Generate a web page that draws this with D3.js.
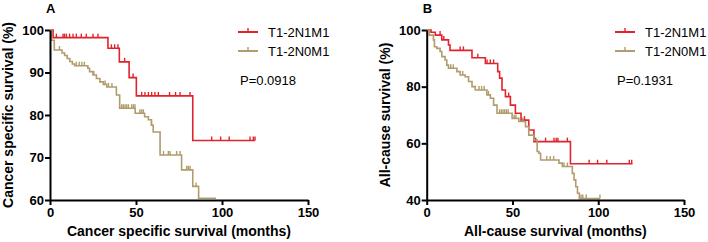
<!DOCTYPE html>
<html lang="en">
<head>
<meta charset="UTF-8">
<title>Survival curves</title>
<script src="https://cdn.jsdelivr.net/npm/d3@7"></script>
<style>
    body { margin: 0; background: #fff; }
    svg { display: block; font-family: Arial, "Liberation Sans", sans-serif; }
    .axis path, .axis line { stroke: #000; stroke-width: 2px; }
    .axis text { font-size: 13px; font-weight: bold; fill: #000; }
</style>
</head>
<body>
<script>
    const groups = ["T1-2N1M1", "T1-2N0M1"];
    const colors = ["#e2232b", "#b09c6c"];
    const xTicks = [0, 50, 100, 150];
    const yTicksA = [60, 70, 80, 90, 100];
    const yTicksB = [40, 60, 80, 100];
    const pValues = ["P=0.0918", "P=0.1931"];

    // panel A - cancer specific survival
    const cssN1Time = [0, 1.8, 33.7, 40.3, 46, 50.2, 83];
    const cssN1Surv = [100, 98.2, 95.7, 92.5, 88.8, 84.5, 74];
    const cssN1End = 119.2;
    const cssN1Cens = [3.7, 7.6, 8.4, 9.5, 11.4, 13.4, 15.3, 18.2, 21.1, 25, 27.9, 35.7, 37.6, 39.5, 43.4, 48.3,
        53.3, 55.2, 57.2, 59.1, 61, 63, 69.5, 73, 75.6, 81.4, 94, 99.2, 104.2, 116.3, 118.2, 119.2];

    const cssN0Time = [0, 0.8, 2.5, 7, 8.5, 10, 11.5, 13, 14.3, 22, 23, 25, 27, 29, 31, 33, 38.6, 40.5, 49.5, 55,
        57.2, 59, 60, 64, 76.5, 83, 86.4];
    const cssN0Surv = [100, 97.6, 95.3, 94.6, 94.0, 93.3, 92.6, 92.0, 91.6, 91.0, 90.2, 89.4, 88.6, 87.8, 87.2, 86.6,
        84.7, 81.6, 80.4, 79.6, 78.9, 77.6, 76.0, 70.6, 67.1, 63.2, 56.0];
    const cssN0End = 96.5;
    const cssN0Cens = [5.5, 15.3, 17, 18.5, 20, 25.5, 32, 34, 36, 41.7, 42.6, 43.6, 44.6, 45.6, 47.5, 48.5, 49.4,
        52.3, 53.3, 54.3, 59, 66, 68.8, 69.8, 73.6, 75.6, 79.5, 80.4, 81.4, 84.9];

    // panel B - all-cause survival
    const acsN1Time = [0, 2.5, 5, 8.8, 12.7, 13.6, 26.4, 34.2, 41.4, 42.5, 43.9, 45.9, 48.8, 51.7, 55, 59.5, 62.5, 83.8];
    const acsN1Surv = [100, 99.2, 98.2, 96.5, 94.7, 92.8, 90.2, 88.2, 85.3, 83, 78.8, 76.5, 73.5, 70.6, 68.2, 64.7,
        60.6, 52.8];
    const acsN1End = 120;
    const acsN1Cens = [7.8, 10, 19.5, 21.4, 29.8, 35.2, 37.1, 39, 47.8, 57, 63.5, 69.3, 74.2, 75.5, 76.5, 82,
        94.7, 99.6, 105, 118.1, 119.5];

    const acsN0Time = [0, 1.5, 3.9, 4.5, 5.9, 7.8, 8.8, 10.7, 11.7, 12.7, 17.6, 19.5, 22.4, 24.4, 26.4, 28.3, 35.1,
        37.1, 39, 41, 49.8, 53.7, 57.6, 59.5, 62.5, 64.4, 65.4, 66.4, 77.1, 79.1, 84.9, 85.9, 86.9, 87.9, 89];
    const acsN0Surv = [100, 98.2, 96.5, 94.1, 93.5, 92.4, 90.6, 89.4, 87.6, 86.5, 85.3, 84.1, 83.5, 81.8, 80, 78.8,
        77.1, 75.9, 73.5, 70.6, 68.8, 67.7, 65.9, 62.9, 61.2, 57.1, 56.5, 54.1, 53, 51.8, 49.4, 47.1, 44.7, 42.4, 40.5];
    const acsN0End = 101;
    const acsN0Cens = [14, 15.5, 21, 30.5, 32, 33.5, 36, 42.5, 43.5, 44.5, 45.5, 46.5, 47.5, 51, 52, 56, 70, 72, 74,
        80, 82, 90, 91, 93, 101];

    const svg = d3.select("body").append("svg")
        .attr("width", 708)
        .attr("height", 242);

    drawPanel({
        label: "A", left: 50, right: 308, yDomain: [60, 100], yTicks: yTicksA,
        xTitle: "Cancer specific survival (months)", yTitle: "Cancer specific survival (%)",
        series: [
            {time: cssN1Time, surv: cssN1Surv, end: cssN1End, cens: cssN1Cens},
            {time: cssN0Time, surv: cssN0Surv, end: cssN0End, cens: cssN0Cens}
        ],
        legendX: 238, p: pValues[0]
    });
    drawPanel({
        label: "B", left: 426.7, right: 684, yDomain: [40, 100], yTicks: yTicksB,
        xTitle: "All-cause survival (months)", yTitle: "All-cause survival (%)",
        series: [
            {time: acsN1Time, surv: acsN1Surv, end: acsN1End, cens: acsN1Cens},
            {time: acsN0Time, surv: acsN0Surv, end: acsN0End, cens: acsN0Cens}
        ],
        legendX: 615, p: pValues[1]
    });

    function drawPanel(o) {
        const x = d3.scaleLinear().domain([0, 150]).range([o.left, o.right]);
        const y = d3.scaleLinear().domain(o.yDomain).range([200, 30]);
        const yMin = o.yDomain[0];
        const g = svg.append("g");

        // curves
        o.series.forEach((s, i) => {
            const pts = s.time.map((t, k) => [t, s.surv[k]]);
            pts.push([s.end, s.surv[s.surv.length - 1]]);
            const line = d3.line()
                .x(d => x(d[0]))
                .y(d => y(Math.max(d[1], yMin + 0.4)))
                .curve(d3.curveStepAfter);
            g.append("path")
                .attr("d", line(pts))
                .attr("fill", "none")
                .attr("stroke", colors[i])
                .attr("stroke-width", 1.6);

            const survAt = t => s.surv[d3.bisectRight(s.time, t) - 1];
            g.selectAll(null)
                .data(s.cens)
                .join("line")
                .attr("x1", d => x(d)).attr("x2", d => x(d))
                .attr("y1", d => y(Math.max(survAt(d), yMin + 0.4)))
                .attr("y2", d => y(Math.max(survAt(d), yMin + 0.4)) - 4)
                .attr("stroke", colors[i])
                .attr("stroke-width", 1.4);
        });

        // axes
        g.append("g")
            .attr("class", "axis")
            .attr("transform", "translate(0,200)")
            .call(d3.axisBottom(x).tickValues(xTicks).tickSize(5).tickPadding(3).tickSizeOuter(0));
        g.append("g")
            .attr("class", "axis")
            .attr("transform", `translate(${o.left},0)`)
            .call(d3.axisLeft(y).tickValues(o.yTicks).tickSize(5).tickPadding(1).tickSizeOuter(0));

        // titles
        g.append("text")
            .attr("x", (o.left + o.right) / 2).attr("y", 236)
            .attr("text-anchor", "middle")
            .style("font-size", "14px").style("font-weight", "bold")
            .text(o.xTitle);
        g.append("text")
            .attr("transform", `translate(${o.left - 37},115) rotate(-90)`)
            .attr("text-anchor", "middle")
            .style("font-size", "14px").style("font-weight", "bold")
            .text(o.yTitle);
        g.append("text")
            .attr("x", o.left - 4).attr("y", 13)
            .style("font-size", "13px").style("font-weight", "bold")
            .text(o.label);

        // legend
        groups.forEach((name, i) => {
            const ly = 32 + i * 19;
            g.append("line")
                .attr("x1", o.legendX).attr("x2", o.legendX + 20)
                .attr("y1", ly).attr("y2", ly)
                .attr("stroke", colors[i]).attr("stroke-width", 2);
            g.append("line")
                .attr("x1", o.legendX + 10).attr("x2", o.legendX + 10)
                .attr("y1", ly).attr("y2", ly - 4)
                .attr("stroke", colors[i]).attr("stroke-width", 1.4);
            g.append("text")
                .attr("x", o.legendX + 30).attr("y", ly + 5)
                .style("font-size", "13px")
                .text(name);
        });
        g.append("text")
            .attr("x", o.legendX + 2).attr("y", 85)
            .style("font-size", "13px")
            .text(o.p);
    }
</script>
</body>
</html>
